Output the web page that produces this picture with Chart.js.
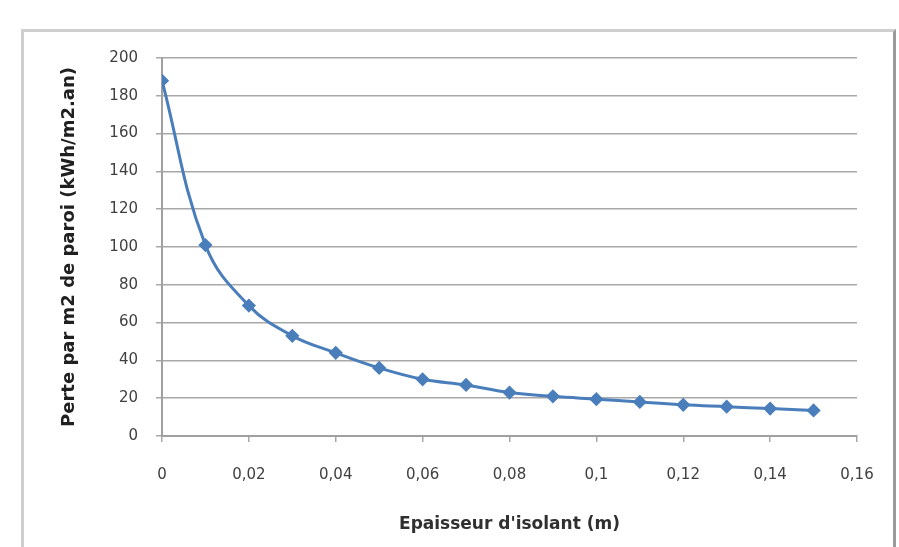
<!DOCTYPE html>
<html>
<head>
<meta charset="utf-8">
<script src="https://cdn.jsdelivr.net/npm/chart.js@4.4.1/dist/chart.umd.min.js"></script>
<style>
  html, body { margin: 0; padding: 0; background: #fff; }
  #wrap { position: relative; width: 899px; height: 547px; overflow: hidden; }
  #frame { position: absolute; left: 21px; top: 29px; width: 869px; height: 540px;
           border-top: 3px solid #cfcfcf; border-left: 3px solid #cfcfcf; border-right: 3px solid #9a9a9a; }
  canvas { position: absolute; left: 0; top: 0; }
</style>
</head>
<body>
<div id="wrap">
  <div id="frame"></div>
  <canvas id="c" width="899" height="547"></canvas>
</div>
<script>
const thickness = [0, 0.01, 0.02, 0.03, 0.04, 0.05, 0.06, 0.07, 0.08, 0.09, 0.10, 0.11, 0.12, 0.13, 0.14, 0.15];
const loss = [188, 101, 69, 53, 44, 36, 30, 27, 23, 21, 19.5, 18, 16.5, 15.5, 14.5, 13.5];
const xTickLabels = ['0', '0,02', '0,04', '0,06', '0,08', '0,1', '0,12', '0,14', '0,16'];
const yTickLabels = ['0', '20', '40', '60', '80', '100', '120', '140', '160', '180', '200'];
const xTitle = "Epaisseur d'isolant (m)";
const yTitle = "Perte par m2 de paroi (kWh/m2.an)";

const points = thickness.map((x, i) => ({ x: x, y: loss[i] }));
const blue = '#4a7ebb';
const fam = 'DejaVu Sans, Liberation Sans, Arial, sans-serif';

new Chart(document.getElementById('c'), {
  type: 'scatter',
  data: {
    datasets: [{
      data: points,
      showLine: true,
      borderColor: blue,
      backgroundColor: blue,
      borderWidth: 3,
      tension: 0.4,
      pointStyle: 'rectRot',
      pointRadius: 5,
      pointHoverRadius: 5,
      pointBackgroundColor: blue,
      pointBorderColor: blue
    }]
  },
  options: {
    responsive: false,
    animation: false,
    events: [],
    layout: { padding: { left: 54, top: 58, right: 42, bottom: 0 } },
    plugins: { legend: { display: false }, tooltip: { enabled: false } },
    scales: {
      x: {
        type: 'linear',
        min: 0, max: 0.16,
        afterBuildTicks: (s) => { s.ticks = xTickLabels.map((_, i) => ({ value: i * 0.02 })); },
        afterFit: (s) => { s.height = 111; },
        ticks: {
          callback: (v, i) => xTickLabels[i],
          color: '#404040',
          font: { family: fam, size: 15 },
          padding: 24,
          maxRotation: 0
        },
        grid: { drawOnChartArea: false, drawTicks: true, tickLength: 6, color: '#a8a8a8', lineWidth: 1.5 },
        border: { display: true, color: '#a0a0a0', width: 2 },
        title: {
          display: true, text: xTitle, color: '#303030',
          font: { family: fam, size: 17, weight: 'bold' },
          padding: { top: 0, bottom: 12 }
        }
      },
      y: {
        min: 0, max: 200,
        afterBuildTicks: (s) => { s.ticks = yTickLabels.map((_, i) => ({ value: i * 20 })); },
        afterFit: (s) => { s.width = 108; },
        ticks: {
          callback: (v, i) => yTickLabels[i],
          color: '#404040',
          font: { family: fam, size: 15 },
          padding: 18
        },
        grid: { color: '#a8a8a8', lineWidth: 1.5, drawTicks: true, tickLength: 6 },
        border: { display: true, color: '#a0a0a0', width: 2 },
        title: {
          display: true, text: yTitle, color: '#202020',
          font: { family: fam, size: 18, weight: 'bold' },
          padding: { top: 5, bottom: 0 }
        }
      }
    }
  }
});
</script>
</body>
</html>
